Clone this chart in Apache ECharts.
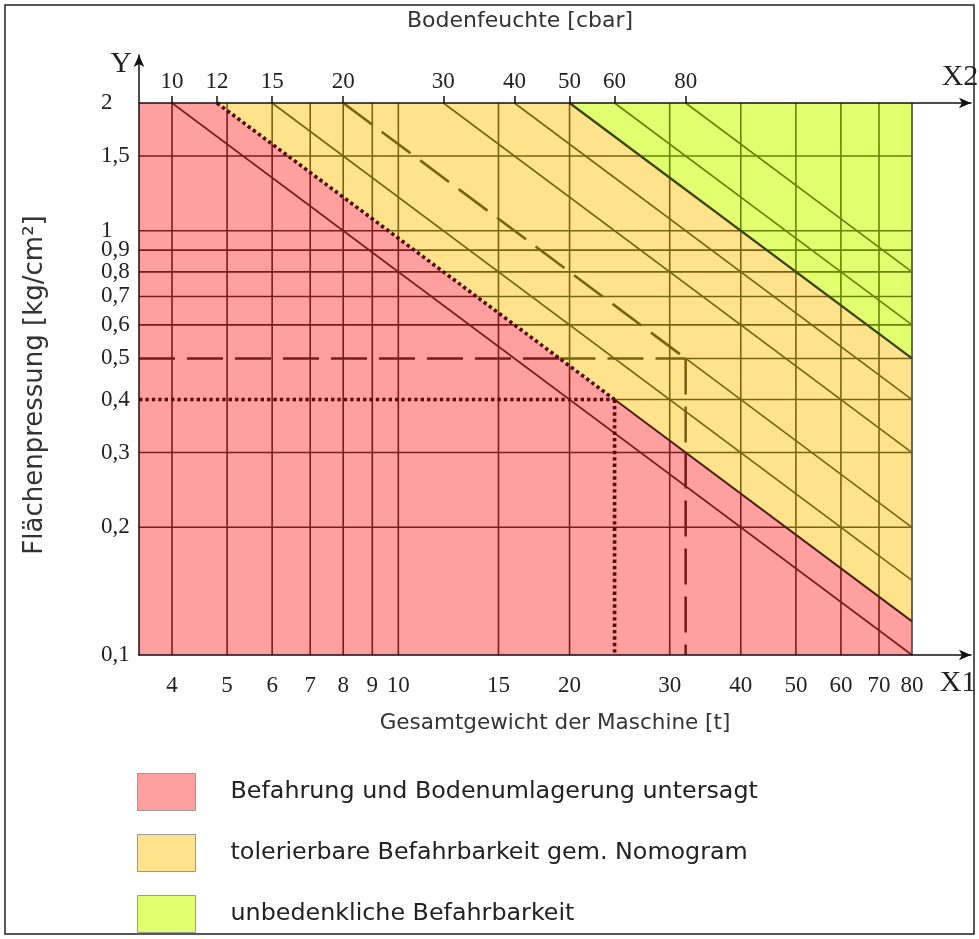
<!DOCTYPE html>
<html><head><meta charset="utf-8">
<script src="https://cdn.jsdelivr.net/npm/echarts@6/dist/echarts.min.js"></script>
<style>html,body{margin:0;padding:0;background:#fff}#c{width:979px;height:939px}</style>
</head><body><div id="c"></div>
<script>
// ---------------- data ----------------
const x1Ticks = [4, 5, 6, 7, 8, 9, 10, 15, 20, 30, 40, 50, 60, 70, 80];          // Gesamtgewicht [t]
const x2Ticks = [10, 12, 15, 20, 30, 40, 50, 60, 80];                            // Bodenfeuchte [cbar]
const yTicks = [0.1, 0.2, 0.3, 0.4, 0.5, 0.6, 0.7, 0.8, 0.9, 1, 1.5, 2];          // Flächenpressung
const yTickLabels = ['0,1', '0,2', '0,3', '0,4', '0,5', '0,6', '0,7', '0,8', '0,9', '1', '1,5', '2'];
const x1Range = [3.5, 80];
const yRange = [0.1, 2];
const x2PerX1 = 2.5;                 // X2 scale = 2.5 x X1 scale
const zoneBoundsX2 = [12, 50];       // red|yellow, yellow|green (start on X2 axis)
const diagonalsX2 = [10, 15, 20, 30, 40, 60, 80];
const exampleDashed = { x2: 20, y: 0.5, x1: 32 };
const exampleDotted = { x2: 12, y: 0.4, x1: 24 };
const zoneNames = ['Befahrung und Bodenumlagerung untersagt', 'tolerierbare Befahrbarkeit gem. Nomogram', 'unbedenkliche Befahrbarkeit'];
const zoneFill = ['#ff9f9f', '#ffe38c', '#e1ff6e'];
const zoneLine = ['#7b1c1c', '#786310', '#638500'];

// ---------------- layout ----------------
const L = Math.log10;
const plotL = 139, plotR = 912, plotT = 103, plotB = 655, arrowX = 971, arrowY = 55;
const xPerPx = (L(x1Range[1]) - L(x1Range[0])) / (plotR - plotL);
const yPerPx = (L(yRange[1]) - L(yRange[0])) / (plotB - plotT);
const xMin = L(x1Range[0]), xMax = L(x1Range[1]) + (arrowX - plotR) * xPerPx;
const yMin = L(yRange[0]), yMax = L(yRange[1]) + (plotT - arrowY) * yPerPx;
const yTop = yRange[1];
const kOf = x2 => yTop * x2 / x2PerX1;        // Y * X1 = K along a diagonal
const zoneK = zoneBoundsX2.map(kOf);
function zoneOf(x, y) { const p = x * y; return p < zoneK[0] - 1e-9 ? 0 : (p < zoneK[1] - 1e-9 ? 1 : 2); }

// ---------------- segments ----------------
const segs = [];
function addSplit(a, b, styleFn) {
  const la = [L(a[0]), L(a[1])], lb = [L(b[0]), L(b[1])];
  const pa = la[0] + la[1], pb = lb[0] + lb[1];
  const ts = [0];
  if (Math.abs(pb - pa) > 1e-12) zoneK.forEach(k => { const t = (L(k) - pa) / (pb - pa); if (t > 1e-6 && t < 1 - 1e-6) ts.push(t); });
  ts.push(1); ts.sort((p, q) => p - q);
  for (let i = 0; i < ts.length - 1; i++) {
    const P = t => [Math.pow(10, la[0] + (lb[0] - la[0]) * t), Math.pow(10, la[1] + (lb[1] - la[1]) * t)];
    const p1 = P(ts[i]), p2 = P(ts[i + 1]), m = P((ts[i] + ts[i + 1]) / 2);
    segs.push(Object.assign({ a: p1, b: p2 }, styleFn(zoneOf(m[0], m[1]))));
  }
}
const gridStyle = z => ({ color: zoneLine[z], width: 1.6 });
const dashStyle = z => ({ color: zoneLine[z], width: 2.6, dash: [36, 12] });
const dotStyle = () => ({ color: '#560a0a', width: 3.6, dash: [3.4, 3] });

// vertical grid lines
x1Ticks.filter(x => x < x1Range[1]).forEach(x => addSplit([x, yRange[0]], [x, yRange[1]], gridStyle));
// horizontal grid lines
yTicks.filter(y => y > yRange[0] && y < yRange[1]).forEach(y => {
  let start = x1Range[0];
  if (y === exampleDashed.y) { addSplit([x1Range[0], y], [exampleDashed.x1, y], dashStyle); start = exampleDashed.x1; }
  if (y === exampleDotted.y) { addSplit([x1Range[0], y], [exampleDotted.x1, y], dotStyle); start = exampleDotted.x1; }
  addSplit([start, y], [x1Range[1], y], gridStyle);
});
// right border
segs.push({ a: [x1Range[1], yRange[0]], b: [x1Range[1], yRange[1]], color: '#444', width: 1.6 });
// diagonals
function diagEnd(k) { return k / x1Range[1] >= yRange[0] ? [x1Range[1], k / x1Range[1]] : [k / yRange[0], yRange[0]]; }
diagonalsX2.forEach(x2 => {
  const k = kOf(x2), s = [x2 / x2PerX1, yTop], e = diagEnd(k);
  if (x2 === exampleDashed.x2) {
    addSplit(s, [exampleDashed.x1, exampleDashed.y], dashStyle);
    addSplit([exampleDashed.x1, exampleDashed.y], e, gridStyle);
  } else addSplit(s, e, gridStyle);
});
// zone boundaries
{
  const k = zoneK[0], s = [zoneBoundsX2[0] / x2PerX1, yTop];
  segs.push(Object.assign({ a: s, b: [exampleDotted.x1, exampleDotted.y] }, dotStyle()));
  segs.push({ a: [exampleDotted.x1, exampleDotted.y], b: diagEnd(k), color: '#4d1f12', width: 2 });
  const k2 = zoneK[1];
  segs.push({ a: [zoneBoundsX2[1] / x2PerX1, yTop], b: diagEnd(k2), color: '#3a4600', width: 2.3 });
}
// example verticals
addSplit([exampleDashed.x1, exampleDashed.y], [exampleDashed.x1, yRange[0]], dashStyle);
addSplit([exampleDotted.x1, exampleDotted.y], [exampleDotted.x1, yRange[0]], dotStyle);

// ---------------- zones ----------------
const kr = zoneK[0], kg = zoneK[1];
const zonePolys = [
  [[x1Range[0], yRange[0]], [x1Range[0], yTop], [kr / yTop, yTop], [x1Range[1], kr / x1Range[1]], [x1Range[1], yRange[0]]],
  [[kr / yTop, yTop], [kg / yTop, yTop], [x1Range[1], kg / x1Range[1]], [x1Range[1], kr / x1Range[1]]],
  [[kg / yTop, yTop], [x1Range[1], yTop], [x1Range[1], kg / x1Range[1]]]
];

const serif = '"Liberation Serif", "DejaVu Serif", serif';
const sans = '"DejaVu Sans", sans-serif';

const series = zonePolys.map((poly, i) => ({
  type: 'custom', name: zoneNames[i], coordinateSystem: 'cartesian2d', z: 1, silent: true,
  itemStyle: { color: zoneFill[i] },
  data: [[L(poly[0][0]), L(poly[0][1])]],
  renderItem(params, api) {
    return { type: 'polygon', shape: { points: poly.map(p => api.coord([L(p[0]), L(p[1])])) }, style: { fill: zoneFill[i] } };
  }
}));
series.push({
  type: 'custom', name: 'lines', coordinateSystem: 'cartesian2d', z: 3, silent: true,
  encode: { x: [0, 2], y: [1, 3] },
  data: segs.map(s => [L(s.a[0]), L(s.a[1]), L(s.b[0]), L(s.b[1])]),
  renderItem(params, api) {
    const s = segs[params.dataIndex];
    const p1 = api.coord([api.value(0), api.value(1)]);
    const p2 = api.coord([api.value(2), api.value(3)]);
    return { type: 'line', shape: { x1: p1[0], y1: p1[1], x2: p2[0], y2: p2[1] },
      style: { stroke: s.color, lineWidth: s.width, lineDash: s.dash || null, fill: null } };
  }
});

function findLabel(ticks, labels, v) {
  const i = ticks.findIndex(t => Math.abs(L(t) - v) < 1e-6);
  return i >= 0 ? labels[i] : '';
}
const axisLineStyle = { color: '#111', width: 1.5 };

const chart = echarts.init(document.getElementById('c'), null, { renderer: 'canvas' });
chart.setOption({
  animation: false,
  backgroundColor: '#fff',
  title: { text: 'Bodenfeuchte [cbar]', left: 515, textAlign: 'center', top: 5,
    textStyle: { fontFamily: sans, fontSize: 22, fontWeight: 'normal', color: '#333' } },
  grid: { left: plotL, right: 979 - arrowX, top: arrowY, bottom: 939 - plotB, containLabel: false },
  xAxis: [{
    type: 'value', position: 'bottom', min: xMin, max: xMax, z: 10,
    axisLine: { onZero: false, lineStyle: axisLineStyle, symbol: ['none', 'arrow'], symbolSize: [8, 12] },
    axisTick: { show: false }, splitLine: { show: false },
    axisLabel: { customValues: x1Ticks.map(L), formatter: v => findLabel(x1Ticks, x1Ticks.map(String), v),
      margin: 19, fontFamily: serif, fontSize: 23, color: '#222' },
    name: 'Gesamtgewicht der Maschine [t]', nameLocation: 'middle', nameGap: 57,
    nameTextStyle: { fontFamily: sans, fontSize: 21.5, color: '#333' }
  }, {
    type: 'value', position: 'top', offset: -(plotT - arrowY), z: 10,
    min: xMin + L(x2PerX1), max: xMax + L(x2PerX1),
    axisLine: { onZero: false, lineStyle: axisLineStyle, symbol: ['none', 'arrow'], symbolSize: [8, 12] },
    axisTick: { show: true, customValues: x2Ticks.map(L), length: 7, lineStyle: { color: '#111', width: 1.5 } },
    splitLine: { show: false },
    axisLabel: { customValues: x2Ticks.map(L), formatter: v => findLabel(x2Ticks, x2Ticks.map(String), v),
      margin: 10, fontFamily: serif, fontSize: 23, color: '#222' }
  }],
  yAxis: [{
    type: 'value', min: yMin, max: yMax, z: 10,
    axisLine: { onZero: false, lineStyle: axisLineStyle, symbol: ['none', 'arrow'], symbolSize: [8, 12] },
    axisTick: { show: false }, splitLine: { show: false },
    axisLabel: { customValues: yTicks.map(L), formatter: v => findLabel(yTicks, yTickLabels, v),
      align: 'left', margin: 38, fontFamily: serif, fontSize: 23, color: '#222' }
  }],
  legend: {
    data: zoneNames, orient: 'vertical', left: 137, top: 773, padding: 0, itemWidth: 58, itemHeight: 37, itemGap: 23,
    icon: 'rect', selectedMode: false,
    itemStyle: { borderColor: '#999', borderWidth: 1 },
    textStyle: { fontFamily: sans, fontSize: 23.8, color: '#222', padding: [0, 0, 0, 30] }
  },
  graphic: [
    { type: 'rect', silent: true, z: 100, shape: { x: 5, y: 5, width: 969, height: 929 }, style: { fill: null, stroke: '#222', lineWidth: 1.5 } },
    { type: 'text', silent: true, x: 121, y: 64, style: { text: 'Y', font: '30px ' + serif, fill: '#222', align: 'center', verticalAlign: 'middle' } },
    { type: 'text', silent: true, x: 960, y: 77, style: { text: 'X2', font: '30px ' + serif, fill: '#222', align: 'center', verticalAlign: 'middle' } },
    { type: 'text', silent: true, x: 958, y: 683, style: { text: 'X1', font: '30px ' + serif, fill: '#222', align: 'center', verticalAlign: 'middle' } },
    { type: 'text', silent: true, x: 35, y: 385, rotation: Math.PI / 2, style: { text: 'Flächenpressung [kg/cm²]', font: '26px ' + sans, fill: '#333', align: 'center', verticalAlign: 'middle' } }
  ],
  series
});
</script></body></html>
